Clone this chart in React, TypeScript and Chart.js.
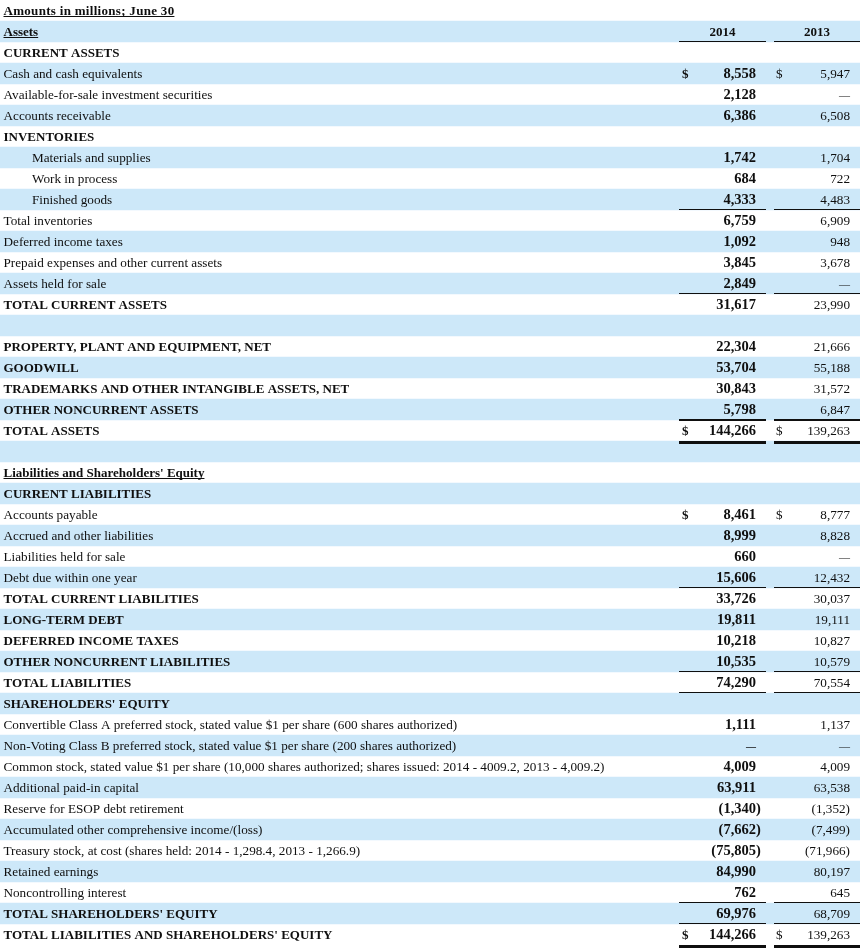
import React, { useEffect, useRef } from "react";
import { Chart, registerables } from "chart.js";

Chart.register(...registerables);

// ---------- DATA ----------
const rowLabels: string[] = [
  "Amounts in millions; June 30",
  "Assets",
  "CURRENT ASSETS",
  "Cash and cash equivalents",
  "Available-for-sale investment securities",
  "Accounts receivable",
  "INVENTORIES",
  "Materials and supplies",
  "Work in process",
  "Finished goods",
  "Total inventories",
  "Deferred income taxes",
  "Prepaid expenses and other current assets",
  "Assets held for sale",
  "TOTAL CURRENT ASSETS",
  "",
  "PROPERTY, PLANT AND EQUIPMENT, NET",
  "GOODWILL",
  "TRADEMARKS AND OTHER INTANGIBLE ASSETS, NET",
  "OTHER NONCURRENT ASSETS",
  "TOTAL ASSETS",
  "",
  "Liabilities and Shareholders' Equity",
  "CURRENT LIABILITIES",
  "Accounts payable",
  "Accrued and other liabilities",
  "Liabilities held for sale",
  "Debt due within one year",
  "TOTAL CURRENT LIABILITIES",
  "LONG-TERM DEBT",
  "DEFERRED INCOME TAXES",
  "OTHER NONCURRENT LIABILITIES",
  "TOTAL LIABILITIES",
  "SHAREHOLDERS' EQUITY",
  "Convertible Class A preferred stock, stated value $1 per share (600 shares authorized)",
  "Non-Voting Class B preferred stock, stated value $1 per share (200 shares authorized)",
  "Common stock, stated value $1 per share (10,000 shares authorized; shares issued: 2014 - 4009.2, 2013 - 4,009.2)",
  "Additional paid-in capital",
  "Reserve for ESOP debt retirement",
  "Accumulated other comprehensive income/(loss)",
  "Treasury stock, at cost (shares held: 2014 - 1,298.4, 2013 - 1,266.9)",
  "Retained earnings",
  "Noncontrolling interest",
  "TOTAL SHAREHOLDERS' EQUITY",
  "TOTAL LIABILITIES AND SHAREHOLDERS' EQUITY",
];

const values2014: (number | null)[] = [
  null, null, null, 8558, 2128, 6386, null, 1742, 684, 4333, 6759, 1092, 3845, 2849, 31617,
  null, 22304, 53704, 30843, 5798, 144266, null, null, null, 8461, 8999, 660, 15606, 33726,
  19811, 10218, 10535, 74290, null, 1111, 0, 4009, 63911, -1340, -7662, -75805, 84990, 762,
  69976, 144266,
];

const values2013: (number | null)[] = [
  null, null, null, 5947, 0, 6508, null, 1704, 722, 4483, 6909, 948, 3678, 0, 23990,
  null, 21666, 55188, 31572, 6847, 139263, null, null, null, 8777, 8828, 0, 12432, 30037,
  19111, 10827, 10579, 70554, null, 1137, 0, 4009, 63538, -1352, -7499, -71966, 80197, 645,
  68709, 139263,
];

const columnYears: string[] = ["2014", "2013"];
const headerRow = 1;
const dollarRows: number[] = [3, 20, 24, 44];
const indentRows: number[] = [7, 8, 9];
const underlinedLabelRows: number[] = [0, 1, 22];
const ruleRows: number[] = [1, 9, 13, 27, 31, 32, 42, 43];
const heavyRuleRows: number[] = [19, 20, 44];

// ---------- STYLE / LAYOUT ----------
const W = 860;
const H = 948;
const STRIPE = "#cde8f9";
const SERIF = '"Liberation Serif", "DejaVu Serif", serif';

const columns = [
  { lineL: 679, lineR: 766, right: 756, dollar: 682, center: 722.5, font: `bold 14.5px ${SERIF}`, dollarFont: `bold 13px ${SERIF}`, dashFont: `bold 10px ${SERIF}`, hang: true },
  { lineL: 774, lineR: 860, right: 850, dollar: 776, center: 817, font: `13.2px ${SERIF}`, dollarFont: `13px ${SERIF}`, dashFont: `11px ${SERIF}`, hang: false },
];

const isUpper = (s: string) => /[A-Z]/.test(s) && s === s.toUpperCase();

const fmt = (n: number) => {
  const s = Math.abs(n).toLocaleString("en-US");
  return n < 0 ? `(${s})` : s;
};

const tablePlugin = {
  id: "tableText",
  afterDatasetsDraw(chart: any) {
    const { ctx } = chart;
    const xs = chart.scales.x;
    const ys = chart.scales.y;
    const px = (v: number) => xs.getPixelForValue(v);
    const pitch = ys.getPixelForValue(1) - ys.getPixelForValue(0);
    ctx.save();
    ctx.fillStyle = "#0f0f0f";
    ctx.textBaseline = "alphabetic";

    rowLabels.forEach((label, i) => {
      const cy = ys.getPixelForValue(i);
      const base = cy + 4.5;

      // label
      if (label) {
        const bold = isUpper(label) || underlinedLabelRows.includes(i);
        ctx.font = bold ? `bold 13px ${SERIF}` : `13.2px ${SERIF}`;
        ctx.letterSpacing = i === 0 ? "0.3px" : "0px";
        ctx.textAlign = "left";
        const lx = px(indentRows.includes(i) ? 32 : 3.5);
        ctx.fillText(label, lx, base);
        if (underlinedLabelRows.includes(i)) {
          const w = ctx.measureText(label).width;
          ctx.fillRect(lx, base + 1, w, 1);
        }
        ctx.letterSpacing = "0px";
      }

      // year headers
      if (i === headerRow) {
        ctx.font = `bold 13px ${SERIF}`;
        ctx.textAlign = "center";
        columnYears.forEach((yr, c) => ctx.fillText(yr, px(columns[c].center), base));
      }

      // values
      [values2014, values2013].forEach((arr, c) => {
        const v = arr[i];
        const col = columns[c];
        if (v === null || v === undefined) return;
        if (dollarRows.includes(i)) {
          ctx.font = col.dollarFont;
          ctx.textAlign = "left";
          ctx.fillText("$", px(col.dollar), base);
        }
        ctx.textAlign = "right";
        if (v === 0) {
          ctx.font = col.dashFont;
          ctx.fillText("\u2014", px(col.right), base);
          return;
        }
        ctx.font = col.font;
        const txt = fmt(v);
        let rx = px(col.right);
        if (v < 0 && col.hang) rx += ctx.measureText(")").width;
        ctx.fillText(txt, rx, base);
      });

      // rules
      const bottom = cy + pitch / 2;
      columns.forEach((col) => {
        const l = px(col.lineL);
        const r = px(col.lineR);
        if (ruleRows.includes(i)) {
          ctx.fillRect(l, Math.round(bottom - 1.5), r - l, 1);
        }
        if (heavyRuleRows.includes(i)) {
          const t = i === 19 ? 2 : 3;
          const yTop = i === 19 ? Math.round(bottom - 1) : Math.round(bottom - 0.5);
          ctx.fillRect(l, yTop, r - l, t);
        }
      });
    });
    ctx.restore();
  },
};

export default function App() {
  const ref = useRef<HTMLCanvasElement | null>(null);
  useEffect(() => {
    if (!ref.current) return;
    const chart = new Chart(ref.current, {
      type: "bar",
      data: {
        labels: rowLabels,
        datasets: [
          {
            label: "stripes",
            data: rowLabels.map((_, i) => (i % 2 === 1 ? [0, W] : null)) as any,
            backgroundColor: STRIPE,
            borderWidth: 0,
            categoryPercentage: 1,
            barPercentage: 1,
          },
        ],
      },
      options: {
        indexAxis: "y",
        responsive: false,
        animation: false,
        events: [],
        layout: { padding: { top: 0, bottom: 3, left: 0, right: 0 } },
        plugins: { legend: { display: false }, tooltip: { enabled: false } },
        scales: {
          x: { type: "linear", min: 0, max: W, display: false },
          y: { type: "category", display: false, offset: true, grid: { display: false } },
        },
      },
      plugins: [tablePlugin],
    });
    return () => chart.destroy();
  }, []);

  return (
    <div style={{ position: "absolute", left: 0, top: 0, width: W, height: H, background: "#fff" }}>
      <canvas ref={ref} width={W} height={H} style={{ width: W, height: H, display: "block" }} />
    </div>
  );
}
